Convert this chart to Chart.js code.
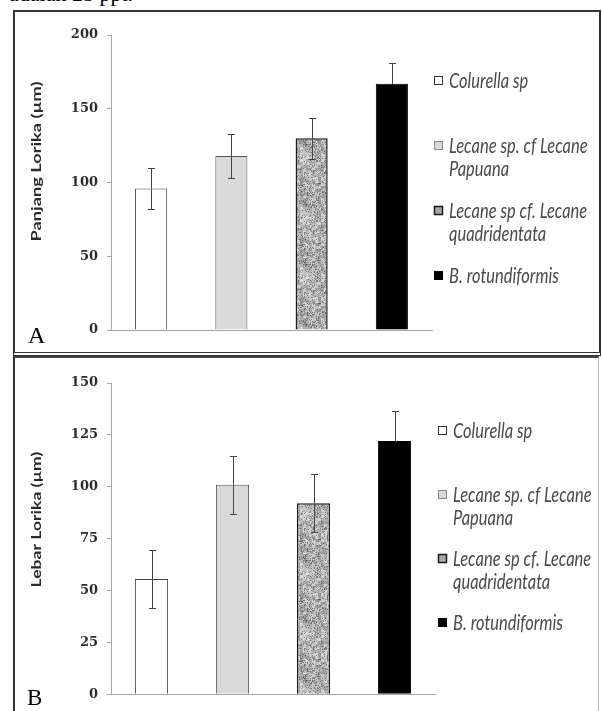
<!DOCTYPE html>
<html>
<head>
<meta charset="utf-8">
<script src="https://cdn.jsdelivr.net/npm/chart.js@4"></script>
<style>
  html, body { margin: 0; padding: 0; background: #fff; }
  body { width: 602px; height: 711px; position: relative; overflow: hidden; }
  .frame { position: absolute; box-sizing: border-box; }
  #frameA { left: 13px; top: 10px; width: 588px; height: 346px; border: 2px solid #333; border-bottom: 4px double #333; }
  #frameB { left: 13px; top: 356px; width: 586px; height: 380px; border: 2px solid #333; border-top: 2px solid #444; border-right: 1px solid #bbb; }
  canvas { position: absolute; left: 0; }
  #chartA { top: 0; }
  #chartB { top: 356px; }
  .letter { position: absolute; font-family: "Liberation Serif", serif; color: #000; }
  #topText { position: absolute; left: 9px; top: -19px; font-family: "Liberation Serif", serif; font-size: 22px; color: #000; }
</style>
</head>
<body>
<div id="topText">adalah 25 ppt.</div>
<div class="frame" id="frameA"></div>
<div class="frame" id="frameB"></div>
<canvas id="chartA" width="602" height="354"></canvas>
<canvas id="chartB" width="602" height="355"></canvas>
<div class="letter" style="left:28px;top:322px;font-size:24px;">A</div>
<div class="letter" style="left:27px;top:685px;font-size:23px;">B</div>
<script>
"use strict";

// data
const categories = [
  "Colurella sp",
  "Lecane sp. cf Lecane\nPapuana",
  "Lecane sp cf. Lecane\nquadridentata",
  "B. rotundiformis",
];
const panjangValues = [96, 118, 130, 167];
const panjangErrors = [14, 15, 14, 14];
const panjangTicks = [0, 50, 100, 150, 200];

const lebarValues = [55.5, 101, 92, 122];
const lebarErrors = [14, 14, 14, 14.5];
const lebarTicks = [0, 25, 50, 75, 100, 125, 150];

// speckled grey fill for the third bar (fixed hash, not data)
function hash(x, y) {
  const h = Math.sin(x * 12.9898 + y * 78.233) * 43758.5453;
  return h - Math.floor(h);
}

function stippleTexture() {
  const size = 60;
  const c = document.createElement("canvas");
  c.width = size;
  c.height = size;
  const g = c.getContext("2d");
  // soft blotches
  for (let y = 0; y < size; y += 3) {
    for (let x = 0; x < size; x += 3) {
      const v = Math.round(145 + hash(x + 7, y + 3) * 70);
      g.fillStyle = "rgb(" + v + "," + v + "," + v + ")";
      g.fillRect(x, y, 3, 3);
    }
  }
  // fine dark specks
  for (let y = 0; y < size; y++) {
    for (let x = 0; x < size; x++) {
      const n = hash(x, y);
      if (n < 0.16) {
        g.fillStyle = "rgba(60,60,60,0.55)";
        g.fillRect(x, y, 1, 1);
      } else if (n > 0.9) {
        g.fillStyle = "rgba(235,235,235,0.6)";
        g.fillRect(x, y, 1, 1);
      }
    }
  }
  return g.createPattern(c, "repeat");
}

const stipple = stippleTexture();
const barColors = ["#ffffff", "#d9d9d9", stipple, "#000000"];
const barBorders = ["#404040", "#555555", "#1a1a1a", "#000000"];
const swatchColors = ["#ffffff", "#d9d9d9", "#a8a8a8", "#000000"];
const swatchBorders = ["#333333", "#8a8a8a", "#1a1a1a", "#000000"];

// error bars drawn over the bars
const errorBarPlugin = {
  id: "errorBars",
  afterDatasetsDraw(chart, args, opts) {
    const ctx = chart.ctx;
    const meta = chart.getDatasetMeta(0);
    const yScale = chart.scales.y;
    const values = chart.data.datasets[0].data;
    ctx.save();
    ctx.lineWidth = 1;
    meta.data.forEach((bar, i) => {
      const x = Math.round(bar.x) + 0.5;
      const yTop = Math.round(yScale.getPixelForValue(values[i] + opts.errors[i])) + 0.5;
      const yMid = yScale.getPixelForValue(values[i]);
      const yBot = Math.round(yScale.getPixelForValue(values[i] - opts.errors[i])) + 0.5;
      ctx.strokeStyle = "#444";
      ctx.beginPath();
      ctx.moveTo(x, yTop);
      ctx.lineTo(x, yMid);
      ctx.moveTo(x - 3.5, yTop);
      ctx.lineTo(x + 3.5, yTop);
      ctx.stroke();
      // the lower half disappears into the black bar
      ctx.strokeStyle = swatchColors[i] === "#000000" ? "#000" : "#444";
      ctx.beginPath();
      ctx.moveTo(x, yMid);
      ctx.lineTo(x, yBot);
      ctx.moveTo(x - 3.5, yBot);
      ctx.lineTo(x + 3.5, yBot);
      ctx.stroke();
    });
    ctx.restore();
  },
};

// legend on the right + rotated axis title (the scan is stretched vertically)
const sideTextPlugin = {
  id: "sideText",
  afterDraw(chart, args, opts) {
    const ctx = chart.ctx;
    const area = chart.chartArea;
    ctx.save();

    const sx = area.right + opts.legendDx;
    categories.forEach((label, i) => {
      const cy = area.top + opts.legendTop + i * opts.legendGap;
      ctx.fillStyle = swatchColors[i];
      ctx.fillRect(sx, cy - 5, 9, 9);
      ctx.strokeStyle = swatchBorders[i];
      ctx.lineWidth = i === 2 ? 1.5 : 1;
      ctx.strokeRect(sx + 0.5, cy - 4.5, 8, 8);
      ctx.fillStyle = "#4a4a4a";
      ctx.font = "italic 16.5px Lato";
      ctx.textBaseline = "middle";
      ctx.textAlign = "left";
      label.split("\n").forEach((line, j) => {
        ctx.save();
        ctx.translate(sx + 15, cy + j * 23);
        ctx.scale(1, 1.3);
        ctx.fillText(line, 0, 0);
        ctx.restore();
      });
    });

    ctx.translate(area.left - 74, (area.top + area.bottom) / 2 + opts.titleDy);
    ctx.rotate(-Math.PI / 2);
    ctx.scale(opts.titleStretch, 1);
    ctx.font = "bold 13px Lato";
    ctx.fillStyle = "#2b2b2b";
    ctx.textAlign = "center";
    ctx.textBaseline = "middle";
    ctx.fillText(opts.title, 0, 0);
    ctx.restore();
  },
};

function makeChart(canvasId, values, errors, ticks, cfg) {
  const ctx = document.getElementById(canvasId).getContext("2d");
  return new Chart(ctx, {
    type: "bar",
    data: {
      labels: categories,
      datasets: [
        {
          data: values,
          backgroundColor: barColors,
          borderColor: barBorders,
          borderWidth: [1, 1, 1.5, 1],
          categoryPercentage: 1,
          barPercentage: cfg.barPct,
        },
      ],
    },
    options: {
      responsive: false,
      animation: false,
      layout: {
        padding: { left: 0, top: cfg.top, right: cfg.right, bottom: cfg.bottom },
      },
      scales: {
        x: {
          grid: { display: false },
          ticks: { display: false },
          border: { display: true, color: "#a6a6a6", width: 1 },
          afterFit: function (scale) {
            scale.height = 0;
          },
        },
        y: {
          min: ticks[0],
          max: ticks[ticks.length - 1],
          ticks: {
            stepSize: ticks[1] - ticks[0],
            padding: 9,
            color: "#2e2e2e",
            font: { family: "DejaVu Serif", size: 13, weight: "bold" },
          },
          grid: {
            drawOnChartArea: false,
            drawTicks: true,
            tickLength: 4,
            color: "#a6a6a6",
          },
          border: { display: true, color: "#a6a6a6", width: 1 },
          afterFit: function (scale) {
            scale.width = 111;
          },
        },
      },
      plugins: {
        legend: { display: false },
        tooltip: { enabled: false },
        errorBars: { errors: errors },
        sideText: {
          title: cfg.title,
          titleDy: cfg.titleDy,
          titleStretch: cfg.titleStretch,
          legendDx: cfg.legendDx,
          legendTop: cfg.legendTop,
          legendGap: cfg.legendGap,
        },
      },
    },
    plugins: [errorBarPlugin, sideTextPlugin],
  });
}

makeChart("chartA", panjangValues, panjangErrors, panjangTicks, {
  title: "Panjang Lorika (\u00b5m)",
  titleDy: -21,
  titleStretch: 1.4,
  top: 35,
  right: 170,
  bottom: 24,
  barPct: 0.4,
  legendDx: 2,
  legendTop: 46,
  legendGap: 65,
});

makeChart("chartB", lebarValues, lebarErrors, lebarTicks, {
  title: "Lebar Lorika (\u00b5m)",
  titleDy: -19,
  titleStretch: 1.35,
  top: 27,
  right: 167,
  bottom: 16,
  barPct: 0.41,
  legendDx: 3,
  legendTop: 48,
  legendGap: 64,
});
</script>
</body>
</html>
